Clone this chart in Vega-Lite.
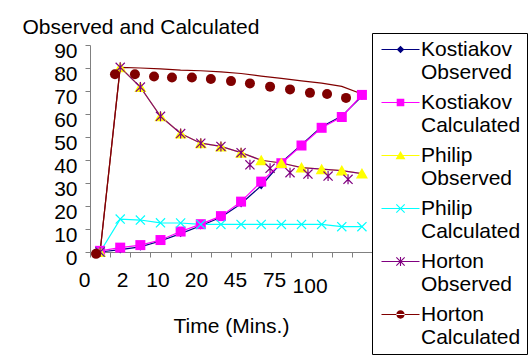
{
  "$schema": "https://vega.github.io/schema/vega-lite/v6.json",
  "width": 282,
  "height": 207,
  "autosize": {"type": "none"},
  "padding": {"left": 90, "top": 45, "right": 160, "bottom": 106},
  "background": "white",
  "config": {
    "font": "Liberation Sans",
    "view": {"stroke": null},
    "axis": {"labelFont": "Liberation Sans", "titleFont": "Liberation Sans", "labelColor": "black", "titleColor": "black", "grid": false}
  },
  "datasets": {
    "lines": [
      {"series": "Kostiakov Observed", "x": 0.5, "y": 0}, {"series": "Kostiakov Observed", "x": 1.5, "y": 1}, {"series": "Kostiakov Observed", "x": 2.5, "y": 2.2}, {"series": "Kostiakov Observed", "x": 3.5, "y": 4.8}, {"series": "Kostiakov Observed", "x": 4.5, "y": 8}, {"series": "Kostiakov Observed", "x": 5.5, "y": 11.4}, {"series": "Kostiakov Observed", "x": 6.5, "y": 15.1}, {"series": "Kostiakov Observed", "x": 7.5, "y": 21}, {"series": "Kostiakov Observed", "x": 8.5, "y": 28.8}, {"series": "Kostiakov Observed", "x": 9.5, "y": 38.9}, {"series": "Kostiakov Observed", "x": 10.5, "y": 46.7}, {"series": "Kostiakov Observed", "x": 11.5, "y": 54.5}, {"series": "Kostiakov Observed", "x": 12.5, "y": 59.1}, {"series": "Kostiakov Observed", "x": 13.5, "y": 67.7},
      {"series": "Kostiakov Calculated", "x": 0.5, "y": 0.5}, {"series": "Kostiakov Calculated", "x": 1.5, "y": 1.9}, {"series": "Kostiakov Calculated", "x": 2.5, "y": 3}, {"series": "Kostiakov Calculated", "x": 3.5, "y": 5.2}, {"series": "Kostiakov Calculated", "x": 4.5, "y": 8.9}, {"series": "Kostiakov Calculated", "x": 5.5, "y": 12.1}, {"series": "Kostiakov Calculated", "x": 6.5, "y": 15.6}, {"series": "Kostiakov Calculated", "x": 7.5, "y": 21.9}, {"series": "Kostiakov Calculated", "x": 8.5, "y": 30.6}, {"series": "Kostiakov Calculated", "x": 9.5, "y": 38.6}, {"series": "Kostiakov Calculated", "x": 10.5, "y": 46.3}, {"series": "Kostiakov Calculated", "x": 11.5, "y": 54}, {"series": "Kostiakov Calculated", "x": 12.5, "y": 58.7}, {"series": "Kostiakov Calculated", "x": 13.5, "y": 68.3},
      {"series": "Philip Observed", "x": 0.5, "y": 0}, {"series": "Philip Observed", "x": 1.5, "y": 80.3}, {"series": "Philip Observed", "x": 2.5, "y": 71.7}, {"series": "Philip Observed", "x": 3.5, "y": 59}, {"series": "Philip Observed", "x": 4.5, "y": 51.5}, {"series": "Philip Observed", "x": 5.5, "y": 47.3}, {"series": "Philip Observed", "x": 6.5, "y": 45.9}, {"series": "Philip Observed", "x": 7.5, "y": 43.2}, {"series": "Philip Observed", "x": 8.5, "y": 39.9}, {"series": "Philip Observed", "x": 9.5, "y": 38.7}, {"series": "Philip Observed", "x": 10.5, "y": 36.7}, {"series": "Philip Observed", "x": 11.5, "y": 36}, {"series": "Philip Observed", "x": 12.5, "y": 35.4}, {"series": "Philip Observed", "x": 13.5, "y": 34.1},
      {"series": "Philip Calculated", "x": 0.5, "y": 0}, {"series": "Philip Calculated", "x": 1.5, "y": 14.3}, {"series": "Philip Calculated", "x": 2.5, "y": 13.9}, {"series": "Philip Calculated", "x": 3.5, "y": 12.7}, {"series": "Philip Calculated", "x": 4.5, "y": 12.6}, {"series": "Philip Calculated", "x": 5.5, "y": 12}, {"series": "Philip Calculated", "x": 6.5, "y": 12}, {"series": "Philip Calculated", "x": 7.5, "y": 12}, {"series": "Philip Calculated", "x": 8.5, "y": 12}, {"series": "Philip Calculated", "x": 9.5, "y": 12}, {"series": "Philip Calculated", "x": 10.5, "y": 12}, {"series": "Philip Calculated", "x": 11.5, "y": 12}, {"series": "Philip Calculated", "x": 12.5, "y": 11}, {"series": "Philip Calculated", "x": 13.5, "y": 11},
      {"series": "Horton Observed", "x": 0.5, "y": 0}, {"series": "Horton Observed", "x": 1.5, "y": 80.3}, {"series": "Horton Observed", "x": 2.5, "y": 71.7}, {"series": "Horton Observed", "x": 3.5, "y": 59}, {"series": "Horton Observed", "x": 4.5, "y": 51.5}, {"series": "Horton Observed", "x": 5.5, "y": 47.3}, {"series": "Horton Observed", "x": 6.5, "y": 45.9}, {"series": "Horton Observed", "x": 7.5, "y": 43.2}, {"series": "Horton Observed", "x": 8.5, "y": 39.9}, {"series": "Horton Observed", "x": 9.5, "y": 38.7}, {"series": "Horton Observed", "x": 10.5, "y": 36.7}, {"series": "Horton Observed", "x": 11.5, "y": 36}, {"series": "Horton Observed", "x": 12.5, "y": 35.4}, {"series": "Horton Observed", "x": 13.5, "y": 34.1},
      {"series": "Horton Calculated", "x": 0.5, "y": 0}, {"series": "Horton Calculated", "x": 1.5, "y": 80.3}, {"series": "Horton Calculated", "x": 2.5, "y": 80}, {"series": "Horton Calculated", "x": 3.5, "y": 79.6}, {"series": "Horton Calculated", "x": 4.5, "y": 79.1}, {"series": "Horton Calculated", "x": 5.5, "y": 78.8}, {"series": "Horton Calculated", "x": 6.5, "y": 78.3}, {"series": "Horton Calculated", "x": 7.5, "y": 77.6}, {"series": "Horton Calculated", "x": 8.5, "y": 76.5}, {"series": "Horton Calculated", "x": 9.5, "y": 75.5}, {"series": "Horton Calculated", "x": 10.5, "y": 74.4}, {"series": "Horton Calculated", "x": 11.5, "y": 73.4}, {"series": "Horton Calculated", "x": 12.5, "y": 72}, {"series": "Horton Calculated", "x": 13.5, "y": 68.7}
    ],
    "markers": [
      {"series": "Kostiakov Observed", "x": 0.5, "y": 0}, {"series": "Kostiakov Observed", "x": 1.5, "y": 1}, {"series": "Kostiakov Observed", "x": 2.5, "y": 2.2}, {"series": "Kostiakov Observed", "x": 3.5, "y": 4.8}, {"series": "Kostiakov Observed", "x": 4.5, "y": 8}, {"series": "Kostiakov Observed", "x": 5.5, "y": 11.4}, {"series": "Kostiakov Observed", "x": 6.5, "y": 15.1}, {"series": "Kostiakov Observed", "x": 7.5, "y": 21}, {"series": "Kostiakov Observed", "x": 8.5, "y": 28.8}, {"series": "Kostiakov Observed", "x": 9.5, "y": 38.9}, {"series": "Kostiakov Observed", "x": 10.5, "y": 46.7}, {"series": "Kostiakov Observed", "x": 11.5, "y": 54.5}, {"series": "Kostiakov Observed", "x": 12.5, "y": 59.1}, {"series": "Kostiakov Observed", "x": 13.5, "y": 67.7},
      {"series": "Kostiakov Calculated", "x": 0.5, "y": 0.5}, {"series": "Kostiakov Calculated", "x": 1.5, "y": 1.9}, {"series": "Kostiakov Calculated", "x": 2.5, "y": 3}, {"series": "Kostiakov Calculated", "x": 3.5, "y": 5.2}, {"series": "Kostiakov Calculated", "x": 4.5, "y": 8.9}, {"series": "Kostiakov Calculated", "x": 5.5, "y": 12.1}, {"series": "Kostiakov Calculated", "x": 6.5, "y": 15.6}, {"series": "Kostiakov Calculated", "x": 7.5, "y": 21.9}, {"series": "Kostiakov Calculated", "x": 8.5, "y": 30.6}, {"series": "Kostiakov Calculated", "x": 9.5, "y": 38.6}, {"series": "Kostiakov Calculated", "x": 10.5, "y": 46.3}, {"series": "Kostiakov Calculated", "x": 11.5, "y": 54}, {"series": "Kostiakov Calculated", "x": 12.5, "y": 58.7}, {"series": "Kostiakov Calculated", "x": 13.5, "y": 68.3},
      {"series": "Philip Observed", "x": 0.5, "y": 0}, {"series": "Philip Observed", "x": 1.5, "y": 80.3}, {"series": "Philip Observed", "x": 2.5, "y": 71.7}, {"series": "Philip Observed", "x": 3.5, "y": 59}, {"series": "Philip Observed", "x": 4.5, "y": 51.5}, {"series": "Philip Observed", "x": 5.5, "y": 47.3}, {"series": "Philip Observed", "x": 6.5, "y": 45.9}, {"series": "Philip Observed", "x": 7.5, "y": 43.2}, {"series": "Philip Observed", "x": 8.5, "y": 39.9}, {"series": "Philip Observed", "x": 9.5, "y": 38.7}, {"series": "Philip Observed", "x": 10.5, "y": 36.7}, {"series": "Philip Observed", "x": 11.5, "y": 36}, {"series": "Philip Observed", "x": 12.5, "y": 35.4}, {"series": "Philip Observed", "x": 13.5, "y": 34.1},
      {"series": "Philip Calculated", "x": 0.5, "y": 0}, {"series": "Philip Calculated", "x": 1.5, "y": 14.3}, {"series": "Philip Calculated", "x": 2.5, "y": 13.9}, {"series": "Philip Calculated", "x": 3.5, "y": 12.7}, {"series": "Philip Calculated", "x": 4.5, "y": 12.6}, {"series": "Philip Calculated", "x": 5.5, "y": 12}, {"series": "Philip Calculated", "x": 6.5, "y": 12}, {"series": "Philip Calculated", "x": 7.5, "y": 12}, {"series": "Philip Calculated", "x": 8.5, "y": 12}, {"series": "Philip Calculated", "x": 9.5, "y": 12}, {"series": "Philip Calculated", "x": 10.5, "y": 12}, {"series": "Philip Calculated", "x": 11.5, "y": 12}, {"series": "Philip Calculated", "x": 12.5, "y": 11}, {"series": "Philip Calculated", "x": 13.5, "y": 11},
      {"series": "Horton Observed", "x": 0.5, "y": 0}, {"series": "Horton Observed", "x": 1.5, "y": 80.3}, {"series": "Horton Observed", "x": 2.5, "y": 71.7}, {"series": "Horton Observed", "x": 3.5, "y": 59}, {"series": "Horton Observed", "x": 4.5, "y": 51.5}, {"series": "Horton Observed", "x": 5.5, "y": 47.3}, {"series": "Horton Observed", "x": 6.5, "y": 45.9}, {"series": "Horton Observed", "x": 7.5, "y": 43.2}, {"series": "Horton Observed", "x": 7.94, "y": 37.9}, {"series": "Horton Observed", "x": 8.94, "y": 36.4}, {"series": "Horton Observed", "x": 9.93, "y": 34.5}, {"series": "Horton Observed", "x": 10.82, "y": 33.9}, {"series": "Horton Observed", "x": 11.82, "y": 33}, {"series": "Horton Observed", "x": 12.81, "y": 31.6},
      {"series": "Horton Calculated", "x": 0.3, "y": -0.8}, {"series": "Horton Calculated", "x": 1.24, "y": 77.3}, {"series": "Horton Calculated", "x": 2.23, "y": 77.3}, {"series": "Horton Calculated", "x": 3.18, "y": 76.3}, {"series": "Horton Calculated", "x": 4.07, "y": 75.9}, {"series": "Horton Calculated", "x": 5.06, "y": 75.9}, {"series": "Horton Calculated", "x": 6.0, "y": 75.2}, {"series": "Horton Calculated", "x": 7.0, "y": 74.3}, {"series": "Horton Calculated", "x": 7.94, "y": 73.3}, {"series": "Horton Calculated", "x": 8.94, "y": 71.9}, {"series": "Horton Calculated", "x": 9.93, "y": 70.7}, {"series": "Horton Calculated", "x": 10.92, "y": 69.2}, {"series": "Horton Calculated", "x": 11.77, "y": 68.7}, {"series": "Horton Calculated", "x": 12.71, "y": 67}
    ]
  },
  "layer": [
    {
      "data": {"name": "lines"},
      "mark": {"type": "line", "strokeWidth": 1.2},
      "encoding": {
        "x": {
          "field": "x", "type": "quantitative",
          "scale": {"domain": [0, 14], "nice": false, "zero": false},
          "axis": {
            "orient": "bottom",
            "values": [0, 1, 2, 3, 4, 5, 6, 7, 8, 9, 10, 11, 12, 13, 14],
            "labels": false, "tickSize": 5, "domainColor": "#808080", "tickColor": "#808080",
            "title": "Time (Mins.)", "titleFontSize": 21, "titleFontWeight": "normal",
            "titleY": 74, "titleBaseline": "middle"
          }
        },
        "y": {
          "field": "y", "type": "quantitative",
          "scale": {"domain": [0, 90], "nice": false},
          "axis": {
            "values": [0, 10, 20, 30, 40, 50, 60, 70, 80, 90],
            "tickSize": 5, "labelFontSize": 21, "labelPadding": 8, "labelOffset": 6, "labelOverlap": false, "labelBound": false, "labelFlush": false,
            "domainColor": "#808080", "tickColor": "#808080",
            "title": "Observed and Calculated", "titleAngle": 0, "titleX": -68, "titleY": -18,
            "titleAlign": "left", "titleBaseline": "middle", "titleFontSize": 21, "titleFontWeight": "normal"
          }
        },
        "color": {
          "field": "series", "type": "nominal",
          "scale": {
            "domain": ["Kostiakov Observed", "Kostiakov Calculated", "Philip Observed", "Philip Calculated", "Horton Observed", "Horton Calculated"],
            "range": ["#000080", "#FF00FF", "#FFFF00", "#00FFFF", "#800080", "#800000"]
          }
        }
      }
    },
    {
      "data": {"name": "markers"},
      "mark": {"type": "point", "filled": true, "opacity": 1, "size": 100},
      "encoding": {
        "x": {
          "field": "x", "type": "quantitative",
          "axis": {
            "orient": "bottom",
            "values": [0, 1.59, 3.35, 5.26, 7.2, 9.14, 10.9],
            "labelExpr": "datum.value < 1 ? '0' : datum.value < 2 ? '2' : datum.value < 4 ? '10' : datum.value < 6 ? '20' : datum.value < 8 ? '45' : datum.value < 10 ? '75' : '100'",
            "domain": false, "ticks": false, "tickSize": 0, "title": null,
            "labelFontSize": 21, "labelBaseline": "middle", "labelAlign": "center",
            "labelOffset": {"condition": {"test": "datum.value < 1", "value": -6}, "value": 0},
            "labelPadding": {"condition": {"test": "datum.value > 10", "value": 34}, "value": 28},
            "labelFlush": false, "labelOverlap": false, "labelBound": false
          }
        },
        "y": {
          "field": "y", "type": "quantitative",
          "axis": {
            "values": [0, 10, 20, 30, 40, 50, 60, 70, 80, 90],
            "tickSize": 5, "labelFontSize": 21, "labelPadding": 8, "labelOffset": 6, "labelOverlap": false, "labelBound": false, "labelFlush": false,
            "domainColor": "#808080", "tickColor": "#808080",
            "title": "Observed and Calculated", "titleAngle": 0, "titleX": -68, "titleY": -18,
            "titleAlign": "left", "titleBaseline": "middle", "titleFontSize": 21, "titleFontWeight": "normal"
          }
        },
        "color": {
          "field": "series", "type": "nominal",
          "legend": {
            "title": null, "orient": "none", "legendX": 282, "legendY": -12,
            "strokeColor": "#000000", "fillColor": "white", "padding": 6,
            "symbolSize": 196, "symbolOffset": 12, "symbolStrokeWidth": 0, "symbolOpacity": 1,
            "labelFontSize": 21, "labelFont": "Liberation Sans", "labelColor": "black",
            "labelOffset": 10, "labelLimit": 200, "rowPadding": 8,
            "labelExpr": "split(datum.label, ' ')",
            "encode": {
              "symbols": {
                "update": {
                  "shape": {"signal": "['M-2.714,-0.08H2.714V0.08H-2.714Z M0,-0.543L0.543,0L0,0.543L-0.543,0Z', 'M-2.714,-0.08H2.714V0.08H-2.714Z M-0.543,-0.543H0.543V0.543H-0.543Z', 'M-2.714,-0.08H2.714V0.08H-2.714Z M0,-0.651L0.706,0.543H-0.706Z', 'M-2.714,-0.08H2.714V0.08H-2.714Z M-0.54,-0.651L0,-0.111L0.54,-0.651L0.651,-0.54L0.111,0L0.651,0.54L0.54,0.651L0,0.111L-0.54,0.651L-0.651,0.54L-0.111,0L-0.651,-0.54Z', 'M-2.714,-0.08H2.714V0.08H-2.714Z M-0.54,-0.651L0,-0.111L0.54,-0.651L0.651,-0.54L0.111,0L0.651,0.54L0.54,0.651L0,0.111L-0.54,0.651L-0.651,0.54L-0.111,0L-0.651,-0.54Z M-0.079,-0.651H0.079V0.651H-0.079Z', 'M-2.714,-0.08H2.714V0.08H-2.714Z M-0.597,0a0.597,0.597 0 1,0 1.194,0a0.597,0.597 0 1,0 -1.194,0Z'][indexof(['Kostiakov Observed', 'Kostiakov Calculated', 'Philip Observed', 'Philip Calculated', 'Horton Observed', 'Horton Calculated'], datum.value)]"}
                }
              },
              "labels": {
                "update": {
                  "lineHeight": {"value": 23}
                }
              }
            }
          }
        },
        "shape": {
          "field": "series", "type": "nominal", "legend": null,
          "scale": {
            "domain": ["Horton Calculated", "Horton Observed", "Philip Calculated", "Philip Observed", "Kostiakov Calculated", "Kostiakov Observed"],
            "range": ["circle", "M-0.83,-1L0,-0.17L0.83,-1L1,-0.83L0.17,0L1,0.83L0.83,1L0,0.17L-0.83,1L-1,0.83L-0.17,0L-1,-0.83Z M-0.12,-1H0.12V1H-0.12Z", "M-0.83,-1L0,-0.17L0.83,-1L1,-0.83L0.17,0L1,0.83L0.83,1L0,0.17L-0.83,1L-1,0.83L-0.17,0L-1,-0.83Z", "M0,-1.1L1.2,1H-1.2Z", "square", "M0,-0.75L0.6,0L0,0.75L-0.6,0Z"]
          }
        }
      }
    }
  ],
  "resolve": {"axis": {"x": "independent"}}
}
